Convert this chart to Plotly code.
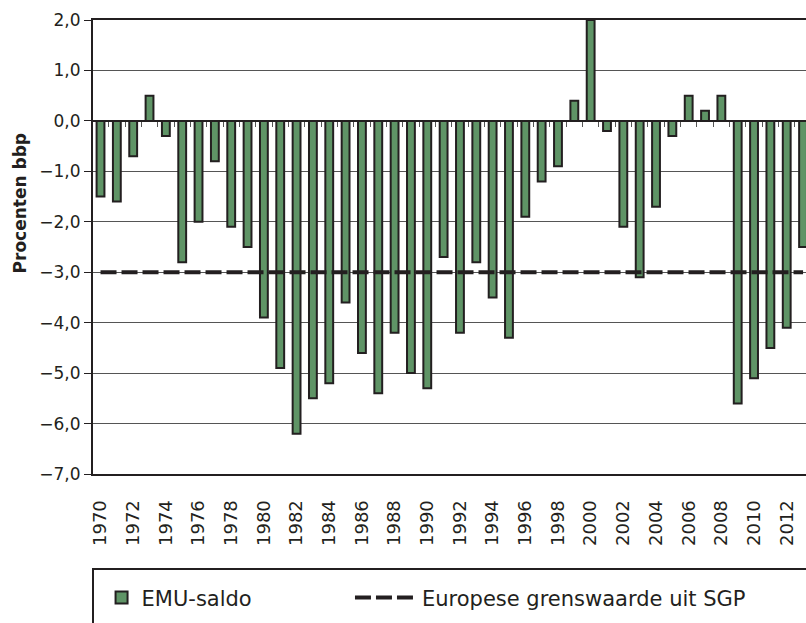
import plotly.graph_objects as go

# EMU-saldo Nederland, procenten bbp
jaren = list(range(1970, 2014))
emu_saldo = [
    -1.5, -1.6, -0.7, 0.5, -0.3, -2.8, -2.0, -0.8, -2.1, -2.5,
    -3.9, -4.9, -6.2, -5.5, -5.2, -3.6, -4.6, -5.4, -4.2, -5.0,
    -5.3, -2.7, -4.2, -2.8, -3.5, -4.3, -1.9, -1.2, -0.9, 0.4,
    2.0, -0.2, -2.1, -3.1, -1.7, -0.3, 0.5, 0.2, 0.5, -5.6,
    -5.1, -4.5, -4.1, -2.5,
]
sgp_grens = -3.0
jaar_labels = list(range(1970, 2013, 2))
y_ticks = [2, 1, 0, -1, -2, -3, -4, -5, -6, -7]

DONKER = '#231f20'
GROEN = '#5f9466'
FONT = 'DejaVu Sans'

fig = go.Figure()

fig.add_trace(go.Bar(
    x=jaren,
    y=emu_saldo,
    name='EMU-saldo',
    width=0.48,
    marker=dict(color=GROEN, line=dict(color=DONKER, width=2)),
    legend='legend',
))

fig.add_trace(go.Scatter(
    x=jaren,
    y=[sgp_grens] * len(jaren),
    mode='lines',
    name='Europese grenswaarde uit SGP',
    line=dict(color=DONKER, width=4, dash='16px,5px'),
    legend='legend2',
))

# dummy trace op xaxis2 zodat de streepjes op de nullijn getekend worden
fig.add_trace(go.Scatter(x=[jaren[0]], y=[0], xaxis='x2', mode='markers',
                         marker=dict(opacity=0), showlegend=False, hoverinfo='skip'))

# rechterkant van de grafiek valt buiten beeld (zoals in het origineel)
x_range = [1969.54, 2013.18]
legend_font = dict(family=FONT, size=21, color=DONKER)

fig.update_layout(
    width=806,
    height=623,
    margin=dict(l=93, r=0, t=20, b=149, autoexpand=False),
    paper_bgcolor='white',
    plot_bgcolor='white',
    separators=',.',
    showlegend=True,
    legend=dict(
        x=0.012, xanchor='left',
        y=-0.273, yanchor='middle',
        font=legend_font,
        bgcolor='rgba(0,0,0,0)',
    ),
    legend2=dict(
        x=0.3604, xanchor='left',
        y=-0.273, yanchor='middle',
        font=legend_font,
        itemwidth=62,
        bgcolor='rgba(0,0,0,0)',
    ),
    xaxis=dict(
        range=x_range,
        tickvals=jaar_labels,
        ticktext=[str(j) for j in jaar_labels],
        tickangle=-90,
        tickfont=dict(family=FONT, size=18, color=DONKER),
        ticks='outside', ticklen=17, tickcolor='rgba(0,0,0,0)',
        showgrid=False,
        showline=True, linecolor=DONKER, linewidth=2, mirror=True,
        zeroline=False,
    ),
    xaxis2=dict(
        range=x_range,
        overlaying='x',
        anchor='free',
        position=7 / 9,
        side='bottom',
        tickvals=[j + 0.5 for j in jaren[:-1]],
        ticks='outside', ticklen=5, tickwidth=1, tickcolor='#555555',
        showticklabels=False,
        showgrid=False,
        showline=False,
        zeroline=False,
    ),
    yaxis=dict(
        range=[-7, 2],
        tickvals=y_ticks,
        tickformat='.1f',
        tickfont=dict(family=FONT, size=17, color=DONKER),
        ticks='outside', ticklen=7, tickcolor=DONKER, tickwidth=1,
        showgrid=True, gridcolor='#555555', gridwidth=1,
        zeroline=True, zerolinecolor=DONKER, zerolinewidth=2,
        showline=True, linecolor=DONKER, linewidth=2,
    ),
    annotations=[dict(
        text='<b>Procenten bbp</b>',
        xref='paper', yref='paper',
        x=-0.103, y=0.595,
        xanchor='center', yanchor='middle',
        textangle=-90,
        showarrow=False,
        font=dict(family=FONT, size=17, color=DONKER),
    )],
    shapes=[dict(
        type='rect',
        xref='paper', yref='paper',
        x0=0, x1=1.1, y0=-0.209, y1=-0.6,
        line=dict(color=DONKER, width=2),
        fillcolor='rgba(0,0,0,0)',
    )],
)

# geen standaardmarge van de pagina, zodat de figuur het hele venster vult
fig.write_html('out.html', config={'displayModeBar': False},
               post_script="document.body.style.margin='0px';")
